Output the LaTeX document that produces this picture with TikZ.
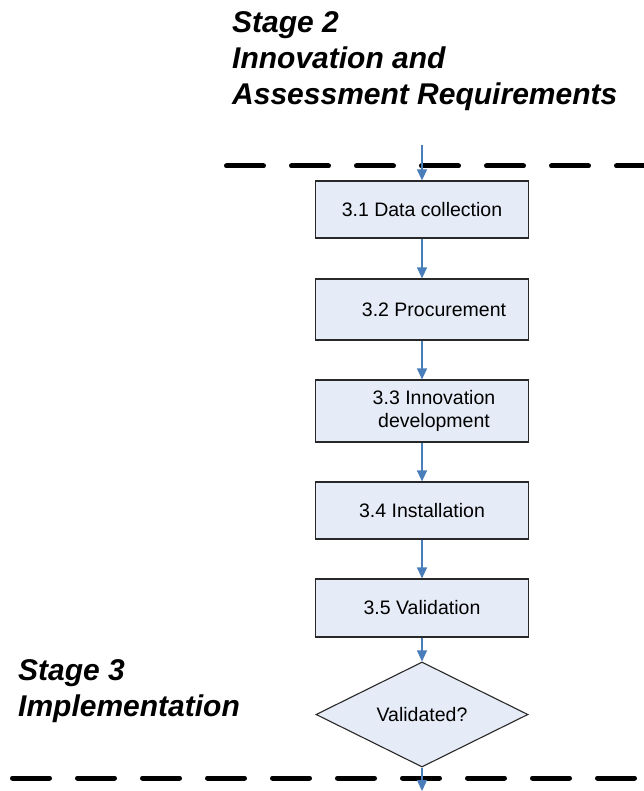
\documentclass[tikz,border=0pt]{standalone}
\usepackage{fontspec}
\setmainfont{Liberation Sans}
\usetikzlibrary{shapes.geometric,arrows.meta}
\definecolor{flowblue}{RGB}{74,126,187}
\definecolor{boxfill}{RGB}{230,236,247}
\definecolor{boxline}{RGB}{40,40,40}
\begin{document}
\begin{tikzpicture}[x=1pt,y=-1pt,
  stepbox/.style={draw=boxline,fill=boxfill,line width=1.2pt,minimum width=212.5pt,
    inner sep=0pt,align=center,font=\fontsize{19.5}{24}\selectfont},
  decision/.style={diamond,draw=boxline,fill=boxfill,line width=1.1pt,minimum width=212pt,
    minimum height=105pt,inner sep=0pt,font=\fontsize{19.5}{24}\selectfont},
  flow/.style={draw=flowblue,line width=1.2pt,-{Triangle[length=11pt,width=10pt]}},
  stagetext/.style={align=left,anchor=north west,inner sep=0pt,
    font=\fontsize{30}{35.7}\selectfont\bfseries\itshape},
  boundary/.style={line width=5pt,line cap=round,dash pattern=on 37pt off 28pt}]
\useasboundingbox (0,0) rectangle (644,791);
\fill[white] (0,0) rectangle (644,791);

% stage headings
\node[stagetext] (s2) at (232,11.5) {Stage 2\\Innovation and\\Assessment Requirements};
\node[stagetext] (s3) at (18,659.5) {Stage 3\\Implementation};

% boundary lines
\draw[boundary] (226.5,166) -- (700,166);
\draw[boundary] (12.5,778) -- (700,778);

% boxes
\node[stepbox,minimum height=57pt] (b1) at (422,209.5) {3.1 Data collection};
\node[stepbox,minimum height=61pt] (b2) at (422,309.5) {\hspace*{24pt}3.2 Procurement};
\node[stepbox,minimum height=62pt] (b3) at (422,411) {\hspace*{24pt}3.3 Innovation\\[-0.5pt]\hspace*{24pt}development};
\node[stepbox,minimum height=57pt] (b4) at (422,510.5) {3.4 Installation};
\node[stepbox,minimum height=58pt] (b5) at (422,608) {3.5 Validation};
\node[decision] (d) at (422,714.5) {Validated?};

\coordinate (in) at (422,145);
\coordinate (out) at (422,791);

\draw[flow] (in) -- (b1.north);
\draw[flow] (b1) -- (b2);
\draw[flow] (b2) -- (b3);
\draw[flow] (b3) -- (b4);
\draw[flow] (b4) -- (b5);
\draw[flow] (b5) -- (d.north);
\draw[flow] (d.south) -- (out);
\end{tikzpicture}
\end{document}
